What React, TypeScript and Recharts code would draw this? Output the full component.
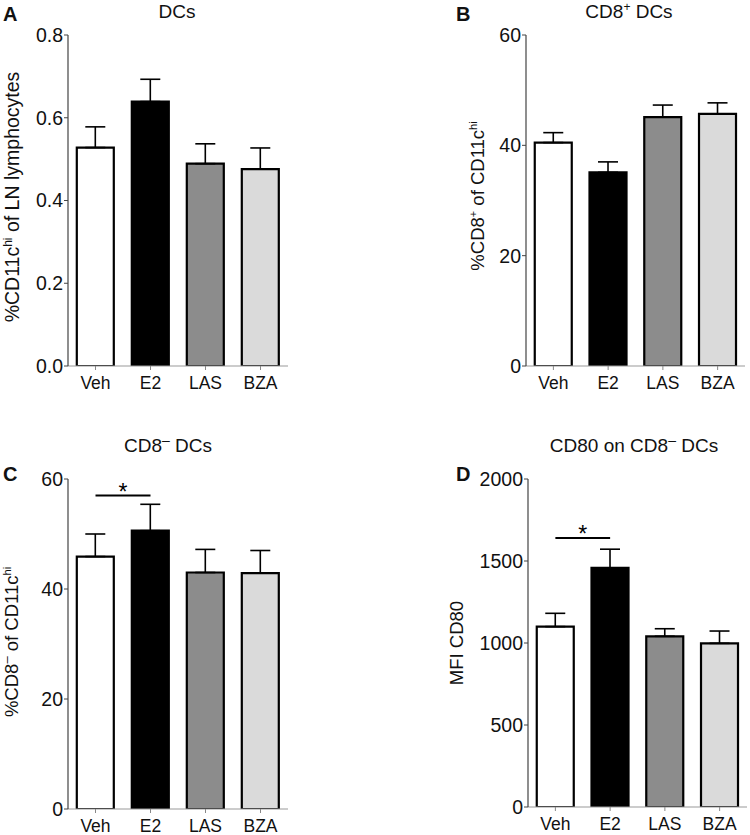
import { BarChart, Bar, Cell, XAxis, YAxis, ErrorBar, ReferenceLine } from "recharts";

const groups = ["Veh", "E2", "LAS", "BZA"];
const fills = ["#ffffff", "#000000", "#8c8c8c", "#dadada"];

// A: DCs, %CD11c-hi of LN lymphocytes
const dcsMean = [0.528, 0.639, 0.489, 0.476];
const dcsErr = [0.05, 0.054, 0.048, 0.051];
// B: CD8+ DCs
const cd8PosMean = [40.5, 35.1, 45.1, 45.7];
const cd8PosErr = [1.8, 1.9, 2.2, 2.0];
// C: CD8- DCs
const cd8NegMean = [45.9, 50.6, 43.0, 42.9];
const cd8NegErr = [4.1, 4.8, 4.2, 4.1];
// D: CD80 MFI on CD8- DCs
const cd80Mean = [1100, 1458, 1041, 998];
const cd80Err = [81, 114, 46, 75];

const FONT = "'Liberation Sans', Arial, Helvetica, sans-serif";
const DASH = "\u2013";

const toRows = (mean: number[], err: number[]) =>
  groups.map((g, i) => ({ name: g, value: mean[i], err: [0, err[i]] }));

type PanelProps = {
  left: number;
  top: number;
  plotTop: number;
  yWidth: number;
  right: number;
  xHeight: number;
  rows: { name: string; value: number; err: number[] }[];
  domain: [number, number];
  ticks: number[];
  fmt?: (v: number) => string;
  sigY?: number;
};

function Panel(p: PanelProps) {
  return (
    <div style={{ position: "absolute", left: p.left, top: p.top }}>
      <BarChart
        width={375}
        height={p.top === 0 ? 420 : 415}
        data={p.rows}
        margin={{ top: p.plotTop, left: 0, right: p.right, bottom: 0 }}
        barCategoryGap="16%"
      >
        <XAxis
          dataKey="name"
          height={p.xHeight}
          axisLine={{ stroke: "#999", strokeWidth: 1.2 }}
          tickLine={{ stroke: "#888" }}
          tickSize={4}
          tickMargin={7}
          tick={{ fill: "#111", fontSize: 17.5 }}
          interval={0}
        />
        <YAxis
          width={p.yWidth}
          domain={p.domain}
          ticks={p.ticks}
          tickFormatter={p.fmt}
          axisLine={{ stroke: "#444", strokeWidth: 1.2 }}
          tickLine={{ stroke: "#444" }}
          tickSize={4}
          tickMargin={1}
          tick={{ fill: "#111", fontSize: 19.5 }}
          allowDataOverflow
        />
        <Bar dataKey="value" stroke="#000" strokeWidth={2.2} isAnimationActive={false}>
          {p.rows.map((r, i) => (
            <Cell key={r.name} fill={fills[i]} />
          ))}
          <ErrorBar dataKey="err" width={10} stroke="#000" strokeWidth={1.6} direction="y" />
        </Bar>
        {p.sigY !== undefined && (
          <ReferenceLine
            segment={[
              { x: "Veh", y: p.sigY },
              { x: "E2", y: p.sigY },
            ]}
            stroke="#000"
            strokeWidth={2}
            label={{ value: "*", position: "top", offset: -4, fontSize: 23, fill: "#000" }}
          />
        )}
      </BarChart>
    </div>
  );
}

export default function App() {
  return (
    <div
      style={{
        position: "absolute",
        left: 0,
        top: 0,
        width: 750,
        height: 835,
        background: "#fff",
        fontFamily: FONT,
      }}
    >
      <Panel
        left={0}
        top={0}
        plotTop={35}
        yWidth={68}
        right={87}
        xHeight={54}
        rows={toRows(dcsMean, dcsErr)}
        domain={[0, 0.8]}
        ticks={[0, 0.2, 0.4, 0.6, 0.8]}
        fmt={(v) => v.toFixed(1)}
      />
      <Panel
        left={375}
        top={0}
        plotTop={35}
        yWidth={151}
        right={5}
        xHeight={54}
        rows={toRows(cd8PosMean, cd8PosErr)}
        domain={[0, 60]}
        ticks={[0, 20, 40, 60]}
      />
      <Panel
        left={0}
        top={420}
        plotTop={59}
        yWidth={68}
        right={87}
        xHeight={26}
        rows={toRows(cd8NegMean, cd8NegErr)}
        domain={[0, 60]}
        ticks={[0, 20, 40, 60]}
        sigY={57}
      />
      <Panel
        left={375}
        top={420}
        plotTop={59}
        yWidth={153}
        right={3}
        xHeight={28}
        rows={toRows(cd80Mean, cd80Err)}
        domain={[0, 2000]}
        ticks={[0, 500, 1000, 1500, 2000]}
        sigY={1641}
      />

      <svg
        width={750}
        height={835}
        style={{ position: "absolute", left: 0, top: 0, pointerEvents: "none" }}
        fontFamily={FONT}
        fill="#111"
      >
        {/* panel letters */}
        <text x={3} y={21} fontSize={20} fontWeight="bold">A</text>
        <text x={456} y={21} fontSize={20} fontWeight="bold">B</text>
        <text x={3} y={481} fontSize={20} fontWeight="bold">C</text>
        <text x={456} y={481} fontSize={20} fontWeight="bold">D</text>

        {/* titles */}
        <text x={177} y={18} fontSize={19} textAnchor="middle">DCs</text>
        <text x={629} y={18} fontSize={19} textAnchor="middle">
          <tspan>CD8</tspan>
          <tspan dy={-7} fontSize={12}>+</tspan>
          <tspan dy={7}> DCs</tspan>
        </text>
        <text x={168} y={452} fontSize={19} textAnchor="middle">
          <tspan>CD8</tspan>
          <tspan dy={-7} fontSize={14}>{DASH}</tspan>
          <tspan dy={7}> DCs</tspan>
        </text>
        <text x={634} y={452} fontSize={19} textAnchor="middle">
          <tspan>CD80 on CD8</tspan>
          <tspan dy={-7} fontSize={14}>{DASH}</tspan>
          <tspan dy={7}> DCs</tspan>
        </text>

        {/* y axis labels */}
        <text transform="translate(19,197) rotate(-90)" fontSize={19.5} textAnchor="middle">
          <tspan>%CD11c</tspan>
          <tspan dy={-7} fontSize={12}>hi</tspan>
          <tspan dy={7}> of LN lymphocytes</tspan>
        </text>
        <text transform="translate(484,196) rotate(-90)" fontSize={18.5} textAnchor="middle">
          <tspan>%CD8</tspan>
          <tspan dy={-7} fontSize={11}>+</tspan>
          <tspan dy={7}> of CD11c</tspan>
          <tspan dy={-7} fontSize={11}>hi</tspan>
        </text>
        <text transform="translate(18,642) rotate(-90)" fontSize={18.5} textAnchor="middle">
          <tspan>%CD8</tspan>
          <tspan dy={-7} fontSize={13}>{DASH}</tspan>
          <tspan dy={7}> of CD11c</tspan>
          <tspan dy={-7} fontSize={11}>hi</tspan>
        </text>
        <text transform="translate(463,643) rotate(-90)" fontSize={18.5} textAnchor="middle">
          MFI CD80
        </text>
      </svg>
    </div>
  );
}
